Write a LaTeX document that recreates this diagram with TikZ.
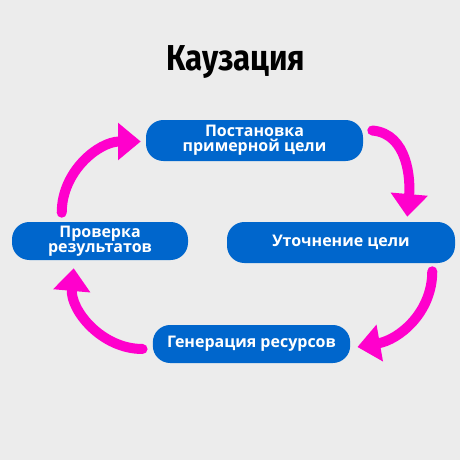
\documentclass[tikz,border=0pt]{standalone}
\usepackage{fontspec}
\setmainfont{Open Sans}
\newfontfamily\titlefont{Fira Sans}
\usetikzlibrary{calc}
\usetikzlibrary{positioning}
\usetikzlibrary{arrows.meta}

\definecolor{boxblue}{RGB}{0,102,204}
\definecolor{loopmag}{RGB}{255,0,204}
\definecolor{paper}{RGB}{236,236,236}

\tikzset{
  stage/.style={draw=none, fill=boxblue, text=white, rounded corners=13pt,
    inner sep=0pt, align=center, font=\fontsize{12}{11.5}\selectfont\bfseries},
  loop arrow/.style={draw=loopmag, line width=7.5pt, line cap=round,
    -{Triangle[length=17pt,width=27pt]}}
}

\begin{document}
\begin{tikzpicture}[x=0.75pt,y=0.75pt,yscale=-1,xscale=1]
  % background
  \fill[paper] (0,0) rectangle (460,460);
  \useasboundingbox (0,0) rectangle (460,460);

  % Title
  \node (title) at (236,70) [anchor=base, inner sep=0pt]
    {\titlefont\fontsize{27}{27}\selectfont\bfseries\scalebox{0.87}[1]{Каузация}};

  % Stages
  \node (goal) at (254.5,140.5) [stage, minimum width=162.75pt, minimum height=30.75pt]
    {Постановка\\примерной цели};
  \node (refine) at (341,242.5) [stage, minimum width=171pt, minimum height=30.75pt]
    {Уточнение цели};
  \node (gen) at (251.5,344) [stage, minimum width=148pt, minimum height=28.5pt]
    {Генерация ресурсов};
  \node (chk) at (100,241) [stage, minimum width=132pt, minimum height=28.5pt]
    {Проверка\\результатов};

  % Arrows
  \draw[loop arrow] ($(chk.north west)+(50,-9)$) to[out=-90,in=180] ($(goal.west)+(-5,1)$);
  \draw[loop arrow] ($(goal.east)+(9,-10)$) to[out=5,in=-85] ($(refine.north east)+(-48,-5)$);
  \draw[loop arrow] ($(refine.south east)+(-23,8)$) to[out=90,in=-10] ($(gen.east)+(7,3)$);
  \draw[loop arrow] ($(gen.west)+(-10,5)$) to[out=180,in=95] ($(chk.south west)+(62,8)$);
\end{tikzpicture}
\end{document}
